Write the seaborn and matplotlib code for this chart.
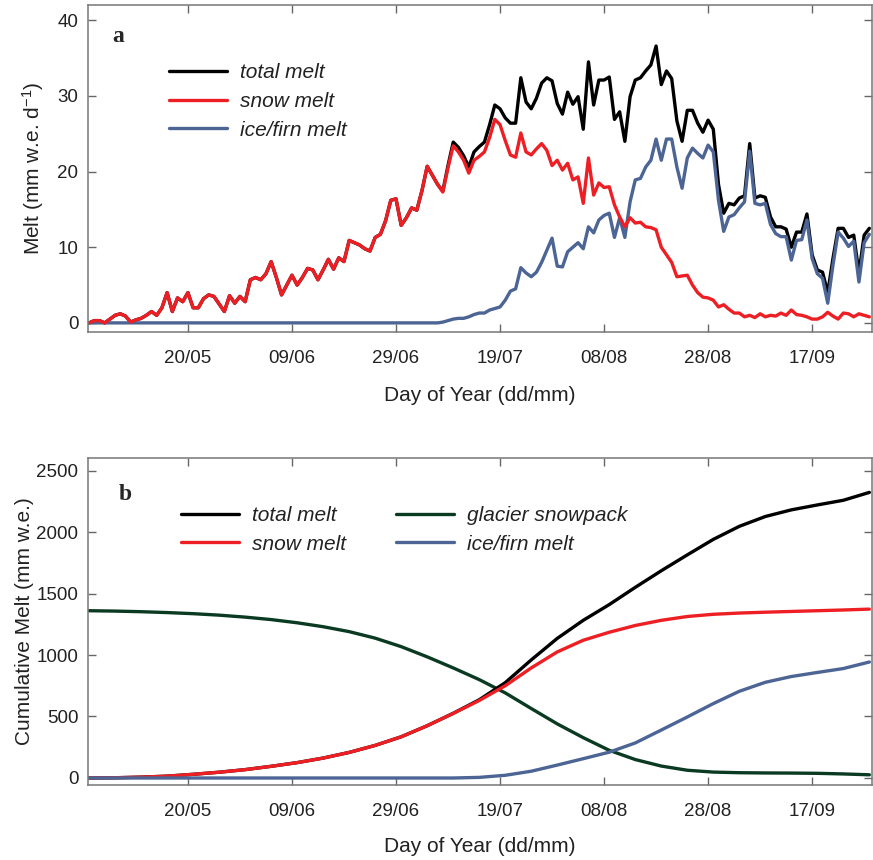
import pandas as pd
import seaborn as sns
from matplotlib import pyplot as plt
from matplotlib.lines import Line2D

sns.set_style("ticks")
plt.rcParams['font.family'] = ['Liberation Sans', 'DejaVu Sans']
plt.rcParams['mathtext.fontset'] = 'custom'
plt.rcParams['mathtext.rm'] = 'Liberation Sans'
plt.rcParams['mathtext.it'] = 'Liberation Sans:italic'

# daily values, 01/05 to 28/09
days = pd.date_range('2011-05-01', periods=151, freq='D')

snow_melt = [
    0.0, 0.3, 0.3, 0.0, 0.5, 1.0, 1.2, 0.9, 0.1, 0.4,
    0.6, 1.0, 1.5, 1.0, 2.0, 4.0, 1.5, 3.3, 2.8, 4.0,
    2.0, 2.0, 3.2, 3.7, 3.5, 2.5, 1.5, 3.6, 2.6, 3.5,
    2.8, 5.7, 6.0, 5.7, 6.5, 8.1, 6.0, 3.7, 5.0, 6.3,
    5.0, 6.0, 7.2, 7.0, 5.7, 7.0, 8.4, 7.1, 8.6, 8.1,
    10.9, 10.6, 10.3, 9.8, 9.5, 11.3, 11.7, 13.5, 16.2, 16.4,
    12.9, 13.9, 15.2, 14.9, 17.5, 20.7, 19.5, 18.3, 17.3, 20.5,
    23.4, 22.6, 21.5, 19.8, 21.5, 22.0, 22.6, 24.5, 26.9, 26.2,
    24.1, 22.2, 21.9, 25.1, 22.6, 22.2, 23.0, 23.7, 22.8, 20.8,
    21.5, 20.2, 21.1, 18.9, 19.3, 15.8, 21.8, 16.9, 18.5, 17.9,
    18.0, 15.6, 14.0, 12.7, 13.9, 13.2, 13.3, 12.7, 12.6, 12.3,
    10.0, 9.0, 8.0, 6.1, 6.2, 6.3, 5.0, 4.0, 3.4, 3.3,
    3.0, 2.1, 2.4, 1.8, 1.3, 1.3, 0.8, 1.0, 0.7, 1.2,
    0.8, 1.0, 0.9, 1.3, 1.0, 1.7, 1.1, 1.0, 0.8, 0.5,
    0.5, 0.8, 1.4, 0.9, 0.5, 1.3, 1.2, 0.8, 1.2, 1.0, 0.8,
]

ice_melt = [0.0] * 68 + [
    0.1, 0.3, 0.5, 0.6, 0.6, 0.8, 1.1, 1.3, 1.3, 1.7, 1.9, 2.1,
    3.0, 4.2, 4.5, 7.3, 6.6, 6.1, 6.7, 8.0, 9.6, 11.2,
    7.5, 7.4, 9.4, 10.0, 10.6, 9.8, 12.7, 11.9, 13.6, 14.2,
    14.5, 11.3, 13.9, 11.3, 16.0, 18.9, 19.1, 20.6, 21.5, 24.3,
    21.5, 24.3, 24.3, 20.6, 17.8, 21.8, 23.1, 22.4, 21.8, 23.5,
    22.6, 16.2, 12.1, 14.0, 14.3, 15.2, 16.0, 22.7, 15.8, 15.6,
    15.8, 13.0, 11.8, 11.4, 11.4, 8.3, 10.9, 11.0, 13.6, 8.5,
    6.5, 5.9, 2.6, 7.6, 12.0, 11.2, 10.1, 10.8, 5.4, 10.6, 11.7,
]

total_melt = [
    0.0, 0.3, 0.3, 0.0, 0.5, 1.0, 1.2, 0.9, 0.1, 0.4,
    0.6, 1.0, 1.5, 1.0, 2.0, 4.0, 1.5, 3.3, 2.8, 4.0,
    2.0, 2.0, 3.2, 3.7, 3.5, 2.5, 1.5, 3.6, 2.6, 3.5,
    2.8, 5.7, 6.0, 5.7, 6.5, 8.1, 6.0, 3.7, 5.0, 6.3,
    5.0, 6.0, 7.2, 7.0, 5.7, 7.0, 8.4, 7.1, 8.6, 8.1,
    10.9, 10.6, 10.3, 9.8, 9.5, 11.3, 11.7, 13.5, 16.2, 16.4,
    12.9, 13.9, 15.2, 14.9, 17.5, 20.7, 19.5, 18.3, 17.4, 20.8,
    23.9, 23.2, 22.1, 20.6, 22.6, 23.3, 23.9, 26.2, 28.8, 28.3,
    27.1, 26.4, 26.4, 32.4, 29.2, 28.3, 29.7, 31.7, 32.4, 32.0,
    29.0, 27.6, 30.5, 28.9, 29.9, 25.6, 34.5, 28.8, 32.1, 32.1,
    32.5, 26.9, 27.9, 24.0, 29.9, 32.1, 32.4, 33.3, 34.1, 36.6,
    31.5, 33.3, 32.3, 26.7, 24.0, 28.1, 28.1, 26.4, 25.2, 26.8,
    25.6, 18.3, 14.5, 15.8, 15.6, 16.5, 16.8, 23.7, 16.5, 16.8,
    16.6, 14.0, 12.7, 12.7, 12.4, 10.0, 12.0, 12.0, 14.4, 9.0,
    7.0, 6.7, 4.0, 8.5, 12.5, 12.5, 11.3, 11.6, 6.6, 11.6, 12.5,
]

# cumulative values, every 5 days
cum_days = pd.date_range('2011-05-01', periods=31, freq='5D')
cum_total = [0, 2, 7, 15, 30, 47, 68, 95, 125, 162, 208, 265, 335, 425, 526,
             636, 775, 960, 1135, 1282, 1410, 1550, 1685, 1814, 1940, 2046,
             2126, 2180, 2220, 2258, 2322]
cum_snow = [0, 2, 7, 15, 30, 47, 68, 95, 125, 162, 208, 265, 335, 425, 525,
            630, 750, 895, 1025, 1120, 1185, 1240, 1282, 1313, 1331, 1341,
            1348, 1354, 1360, 1366, 1373]
cum_ice = [0, 0, 0, 0, 0, 0, 0, 0, 0, 0, 0, 0, 0, 0, 0,
           5, 22, 55, 105, 157, 210, 285, 390, 496, 605, 705,
           778, 825, 858, 890, 943]
cum_snowpack = [1360, 1357, 1352, 1345, 1336, 1324, 1308, 1288, 1262, 1230,
                1190, 1137, 1068, 985, 895, 800, 692, 565, 440, 328, 225,
                150, 97, 63, 48, 43, 41, 40, 38, 33, 26]

tick_dates = pd.to_datetime(['2011-05-20', '2011-06-09', '2011-06-29', '2011-07-19',
                             '2011-08-08', '2011-08-28', '2011-09-17'])
tick_labels = ['20/05', '09/06', '29/06', '19/07', '08/08', '28/08', '17/09']

c_total = '#000000'
c_snow = '#ee1f24'
c_ice = '#4c6594'
c_pack = '#0b3a22'
lw = 2.4

fig = plt.figure(figsize=(8.73, 8.6), dpi=100)
ax1 = fig.add_axes([0.1008, 0.614, 0.898, 0.380])
ax2 = fig.add_axes([0.1008, 0.0872, 0.898, 0.380])

daily = pd.DataFrame({'date': days, 'total': total_melt, 'snow': snow_melt, 'ice': ice_melt})
cum = pd.DataFrame({'date': cum_days, 'total': cum_total, 'snow': cum_snow,
                    'ice': cum_ice, 'pack': cum_snowpack})

# panel a
sns.lineplot(data=daily, x='date', y='total', color=c_total, lw=lw, ax=ax1)
sns.lineplot(data=daily, x='date', y='ice', color=c_ice, lw=lw, ax=ax1)
sns.lineplot(data=daily, x='date', y='snow', color=c_snow, lw=lw, ax=ax1)

# panel b
sns.lineplot(data=cum, x='date', y='pack', color=c_pack, lw=lw, ax=ax2)
sns.lineplot(data=cum, x='date', y='total', color=c_total, lw=lw, ax=ax2)
sns.lineplot(data=cum, x='date', y='snow', color=c_snow, lw=lw, ax=ax2)
sns.lineplot(data=cum, x='date', y='ice', color=c_ice, lw=lw, ax=ax2)

x0 = days[0] - pd.Timedelta(hours=5)
x1 = days[-1] + pd.Timedelta(hours=12)
for ax in (ax1, ax2):
    ax.set_xlim(x0, x1)
    ax.set_xticks(tick_dates)
    ax.set_xticklabels(tick_labels)
    ax.tick_params(direction='in', length=6, width=1, color='#666666',
                   top=True, right=True, labelsize=13.5, labelcolor='#222222')
    ax.tick_params(axis='x', pad=13)
    ax.tick_params(axis='y', pad=7)
    for s in ax.spines.values():
        s.set_color('#777777')
        s.set_linewidth(1.1)

ax1.set_xlabel('Day of Year (dd/mm)', fontsize=15, color='#222222', labelpad=14)
ax2.set_xlabel('Day of Year (dd/mm)', fontsize=15, color='#222222', labelpad=12)
ax1.set_ylim(-1.2, 42)
ax1.set_yticks([0, 10, 20, 30, 40])
ax1.set_ylabel('Melt (mm w.e. d$^{-1}$)', fontsize=15, color='#222222', labelpad=8)
ax2.set_ylim(-57, 2600)
ax2.set_yticks([0, 500, 1000, 1500, 2000, 2500])
ax2.set_ylabel('Cumulative Melt (mm w.e.)', fontsize=15, color='#222222', labelpad=1.5)

ax1.text(0.038, 0.905, 'a', transform=ax1.transAxes, fontsize=17, fontweight='bold',
         family='Liberation Serif', ha='center', va='center')
ax2.text(0.047, 0.888, 'b', transform=ax2.transAxes, fontsize=17, fontweight='bold',
         family='Liberation Serif', ha='center', va='center')

leg_kw = dict(frameon=False, handlelength=2.8, handletextpad=0.62, labelspacing=0.47,
              borderpad=0, borderaxespad=0, loc='upper left',
              prop={'style': 'italic', 'size': 15})
h1 = [Line2D([], [], color=c, lw=lw) for c in (c_total, c_snow, c_ice)]
l1 = ax1.legend(h1, ['total melt', 'snow melt', 'ice/firn melt'],
                bbox_to_anchor=(0.103, 0.823), **leg_kw)
for t in l1.get_texts():
    t.set_color('#222222')

h2 = [Line2D([], [], color=c, lw=lw) for c in (c_total, c_snow, c_pack, c_ice)]
l2 = ax2.legend(h2, ['total melt', 'snow melt', 'glacier snowpack', 'ice/firn melt'],
                ncol=2, columnspacing=2.4, bbox_to_anchor=(0.118, 0.854), **leg_kw)
for t in l2.get_texts():
    t.set_color('#222222')

fig.savefig('out.png', dpi=100)
